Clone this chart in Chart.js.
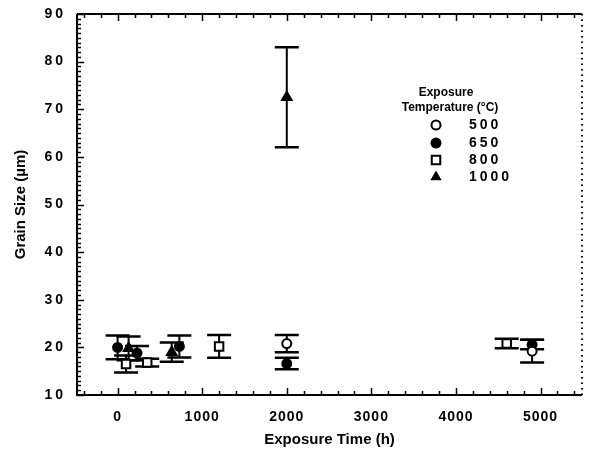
<!DOCTYPE html>
<html lang="en">
<head>
  <meta charset="UTF-8">
  <title>Grain Size vs Exposure Time</title>
  <script src="https://cdn.jsdelivr.net/npm/chart.js"></script>
  <style>
    body { margin: 0; background: #fff; }
    #wrap { width: 590px; height: 453px; }
  </style>
</head>
<body>
  <div id="wrap"><canvas id="grafico"></canvas></div>

  <script>
    // data (x in hours, grain size in µm, +/- error)
    const x500 = [2000, 4900];
    const y500 = [20.8, 19.2];
    const e500 = [1.8, 2.4];

    const x650 = [0, 230, 730, 2000, 4900];
    const y650 = [20.0, 18.8, 20.2, 16.6, 20.6];
    const e650 = [2.5, 1.5, 2.3, 1.2, 1.0];

    const x800 = [100, 350, 1200, 4600];
    const y800 = [16.5, 16.8, 20.2, 20.8];
    const e800 = [1.8, 0.8, 2.4, 1.0];

    const x1000 = [130, 640, 2000];
    const y1000 = [19.8, 19.0, 72.5];
    const e1000 = [2.5, 2.0, 10.5];

    const xTicks = [0, 1000, 2000, 3000, 4000, 5000];
    const yTicks = [10, 20, 30, 40, 50, 60, 70, 80, 90];

    const tempLabels = ['500', '650', '800', '1000'];

    function pts(xs, ys, es) {
      return xs.map((x, i) => ({ x: x, y: ys[i], e: es[i] }));
    }

    const FONT = '"Liberation Sans", Arial, sans-serif';

    const series = [
      { label: tempLabels[0], data: pts(x500, y500, e500), pointStyle: 'circle', backgroundColor: '#fff', radius: 4.5 },
      { label: tempLabels[1], data: pts(x650, y650, e650), pointStyle: 'circle', backgroundColor: '#000', radius: 4.5 },
      { label: tempLabels[2], data: pts(x800, y800, e800), pointStyle: 'rect', backgroundColor: '#fff', radius: 6 },
      { label: tempLabels[3], data: pts(x1000, y1000, e1000), pointStyle: 'triangle', backgroundColor: '#000', radius: 5.5 }
    ];

    // error bars + inward ticks + legend
    const extras = {
      id: 'extras',
      afterLayout(chart) {
        // spaced-out digits on the tick labels, like the original typesetting
        ['x', 'y'].forEach(id => {
          const s = chart.scales[id];
          if (s._spaced) return;
          const orig = s.drawLabels;
          s.drawLabels = function (area) {
            this.ctx.save();
            this.ctx.letterSpacing = id === 'y' ? '3px' : '1px';
            orig.call(this, area);
            this.ctx.restore();
          };
          s._spaced = true;
        });
      },
      beforeDatasetsDraw(chart) {
        const ctx = chart.ctx;
        const xs = chart.scales.x, ys = chart.scales.y;
        ctx.save();
        ctx.strokeStyle = '#000';
        chart.data.datasets.forEach(ds => {
          ds.data.forEach(p => {
            const px = xs.getPixelForValue(p.x);
            const top = ys.getPixelForValue(p.y + p.e);
            const bot = ys.getPixelForValue(p.y - p.e);
            ctx.lineWidth = 2;
            ctx.beginPath();
            ctx.moveTo(px, top); ctx.lineTo(px, bot);
            ctx.stroke();
            ctx.lineWidth = 2.5;
            ctx.beginPath();
            ctx.moveTo(px - 12, top); ctx.lineTo(px + 12, top);
            ctx.moveTo(px - 12, bot); ctx.lineTo(px + 12, bot);
            ctx.stroke();
          });
        });
        ctx.restore();
      },
      afterDraw(chart) {
        const ctx = chart.ctx;
        const a = chart.chartArea;
        const xs = chart.scales.x, ys = chart.scales.y;
        ctx.save();
        ctx.strokeStyle = '#000';
        ctx.lineWidth = 2;
        // frame: left, bottom, top solid, right dotted
        ctx.beginPath();
        ctx.moveTo(a.left, a.top); ctx.lineTo(a.left, a.bottom); ctx.lineTo(a.right, a.bottom);
        ctx.moveTo(a.left, a.top); ctx.lineTo(a.right, a.top);
        ctx.stroke();
        ctx.setLineDash([1.5, 4]);
        ctx.beginPath();
        ctx.moveTo(a.right, a.top); ctx.lineTo(a.right, a.bottom);
        ctx.stroke();
        ctx.setLineDash([]);

        // y ticks every 1, long at every 10
        ctx.lineWidth = 1.5;
        ctx.beginPath();
        for (let v = ys.min; v <= ys.max; v++) {
          const py = Math.round(ys.getPixelForValue(v)) + 0.5;
          const len = v % 10 === 0 ? 7 : 4;
          ctx.moveTo(a.left, py); ctx.lineTo(a.left + len, py);
        }
        // x ticks every 200 on bottom and top
        for (let v = -400; v <= xs.max; v += 200) {
          const px = Math.round(xs.getPixelForValue(v)) + 0.5;
          const len = v % 1000 === 0 ? 7 : 4;
          ctx.moveTo(px, a.bottom); ctx.lineTo(px, a.bottom - len);
          ctx.moveTo(px, a.top); ctx.lineTo(px, a.top + len);
        }
        ctx.stroke();

        // legend
        ctx.fillStyle = '#000';
        ctx.textBaseline = 'middle';
        ctx.textAlign = 'center';
        ctx.font = 'bold 12px ' + FONT;
        ctx.fillText('Exposure', 446, 93);
        ctx.fillText('Temperature (\u00B0C)', 450, 108);
        const rows = [125, 143, 160, 177];
        ctx.textAlign = 'left';
        ctx.font = 'bold 14px ' + FONT;
        ctx.letterSpacing = '3px';
        chart.data.datasets.forEach((ds, i) => {
          ctx.save();
          ctx.fillStyle = ds.backgroundColor;
          ctx.strokeStyle = '#000';
          ctx.lineWidth = 2;
          Chart.helpers.drawPoint(ctx, { pointStyle: ds.pointStyle, radius: ds.pointStyle === 'rect' ? 6 : 4.5, rotation: 0, borderWidth: 2 }, 436, rows[i]);
          ctx.restore();
          ctx.fillText(ds.label, 469, rows[i]);
        });
        ctx.restore();
      }
    };

    new Chart(document.getElementById('grafico'), {
      type: 'scatter',
      data: {
        datasets: series.map(s => ({
          label: s.label,
          data: s.data,
          pointStyle: s.pointStyle,
          backgroundColor: s.backgroundColor,
          borderColor: '#000',
          borderWidth: 2,
          pointRadius: s.radius,
          pointHoverRadius: s.radius
        }))
      },
      options: {
        responsive: true,
        maintainAspectRatio: false,
        animation: false,
        layout: { padding: { top: 14, right: 3, left: 0, bottom: 0 } },
        plugins: { legend: { display: false }, tooltip: { enabled: false } },
        scales: {
          x: {
            type: 'linear',
            min: -480,
            max: 5490,
            grid: { display: false },
            border: { display: false },
            afterBuildTicks: s => { s.ticks = xTicks.map(v => ({ value: v })); },
            afterFit: s => { s.height = 58; },
            ticks: { color: '#000', padding: 6, callback: v => String(v), font: { family: FONT, size: 14, weight: 'bold' } },
            title: { display: true, text: 'Exposure Time (h)', color: '#000', padding: { top: 4 }, font: { family: FONT, size: 15, weight: 'bold' } }
          },
          y: {
            min: 10,
            max: 90,
            grid: { display: false },
            border: { display: false },
            afterBuildTicks: s => { s.ticks = yTicks.map(v => ({ value: v })); },
            afterFit: s => { s.width = 77; },
            ticks: { color: '#000', padding: 3, callback: v => String(v), font: { family: FONT, size: 14, weight: 'bold' } },
            title: { display: true, text: 'Grain Size (\u00B5m)', color: '#000', padding: { top: 12, bottom: 4 }, font: { family: FONT, size: 15, weight: 'bold' } }
          }
        }
      },
      plugins: [extras]
    });
  </script>
</body>
</html>
